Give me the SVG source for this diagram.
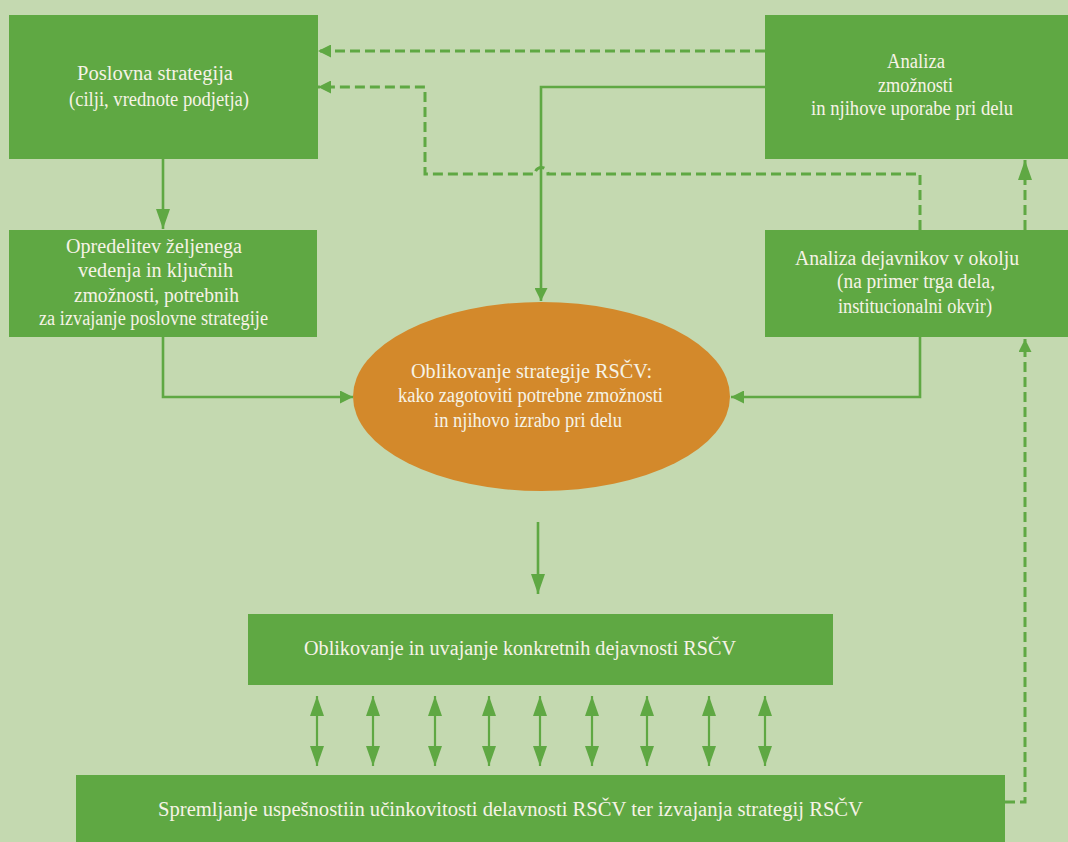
<svg xmlns="http://www.w3.org/2000/svg" width="1068" height="842" viewBox="0 0 1068 842">
  <style>
    .box { fill: #5FA843; }
    .oval { fill: #D3892B; }
    .lbl { font-family: "Liberation Serif", "Times New Roman", serif; font-size: 20.5px; fill: #F6F3E6; }
    .line { fill: none; stroke: #5FA843; stroke-width: 2.6; }
    .dash { fill: none; stroke: #5FA843; stroke-width: 3; stroke-dasharray: 10 5; }
    .dbl { fill: none; stroke: #5FA843; stroke-width: 2.2; }
  </style>
  <defs>
    <marker id="head-s" markerUnits="userSpaceOnUse" markerWidth="13" markerHeight="13" refX="13" refY="6.5" orient="auto">
      <path d="M0,0 L13,6.5 L0,13 Z" fill="#5FA843"/>
    </marker>
    <marker id="head-l" markerUnits="userSpaceOnUse" markerWidth="20" markerHeight="14" refX="20" refY="7" orient="auto-start-reverse">
      <path d="M0,0 L20,7 L0,14 Z" fill="#5FA843"/>
    </marker>
  </defs>

  <rect width="1068" height="842" fill="#C4D9B0"/>

  <!-- connectors -->
  <g id="connectors">
    <path class="dash" d="M765,51 L318,51" marker-end="url(#head-s)"/>
    <path class="dash" d="M920,230 L920,174 L548,174 A6.5,6.5 0 0 0 535,174 L425,174 L425,87 L318,87" marker-end="url(#head-s)"/>
    <path class="line" d="M765,87 L541,87 L541,301" marker-end="url(#head-s)"/>
    <path class="line" d="M163,159 L163,229" marker-end="url(#head-l)"/>
    <path class="line" d="M163,337 L163,397 L353,397" marker-end="url(#head-s)"/>
    <path class="line" d="M920,337 L920,397 L731,397" marker-end="url(#head-s)"/>
    <path class="dash" d="M1025,230 L1025,160" marker-end="url(#head-l)"/>
    <path class="dash" d="M1005,802 L1025,802 L1025,339" marker-end="url(#head-s)"/>
    <path class="line" d="M538,522 L538,594" marker-end="url(#head-l)"/>
    <g id="feedback-arrows">
      <path class="dbl" d="M317,696 L317,766" marker-start="url(#head-l)" marker-end="url(#head-l)"/>
      <path class="dbl" d="M373,696 L373,766" marker-start="url(#head-l)" marker-end="url(#head-l)"/>
      <path class="dbl" d="M435,696 L435,766" marker-start="url(#head-l)" marker-end="url(#head-l)"/>
      <path class="dbl" d="M489,696 L489,766" marker-start="url(#head-l)" marker-end="url(#head-l)"/>
      <path class="dbl" d="M540,696 L540,766" marker-start="url(#head-l)" marker-end="url(#head-l)"/>
      <path class="dbl" d="M592,696 L592,766" marker-start="url(#head-l)" marker-end="url(#head-l)"/>
      <path class="dbl" d="M647,696 L647,766" marker-start="url(#head-l)" marker-end="url(#head-l)"/>
      <path class="dbl" d="M709,696 L709,766" marker-start="url(#head-l)" marker-end="url(#head-l)"/>
      <path class="dbl" d="M765,696 L765,766" marker-start="url(#head-l)" marker-end="url(#head-l)"/>
    </g>
  </g>

  <!-- business strategy -->
  <g id="poslovna-strategija">
    <rect class="box" x="9" y="15" width="309" height="144"/>
    <text class="lbl" x="77" y="80" textLength="156" lengthAdjust="spacingAndGlyphs">Poslovna strategija</text>
    <text class="lbl" x="69" y="106" textLength="180" lengthAdjust="spacingAndGlyphs">(cilji, vrednote podjetja)</text>
  </g>

  <!-- required knowledge and competences -->
  <g id="opredelitev">
    <rect class="box" x="9" y="230" width="308" height="107"/>
    <text class="lbl" x="66" y="253" textLength="176" lengthAdjust="spacingAndGlyphs">Opredelitev željenega</text>
    <text class="lbl" x="78" y="277" textLength="155" lengthAdjust="spacingAndGlyphs">vedenja in ključnih</text>
    <text class="lbl" x="74" y="302" textLength="165" lengthAdjust="spacingAndGlyphs">zmožnosti, potrebnih</text>
    <text class="lbl" x="39" y="325" textLength="229" lengthAdjust="spacingAndGlyphs">za izvajanje poslovne strategije</text>
  </g>

  <!-- competence analysis -->
  <g id="analiza-zmoznosti">
    <rect class="box" x="765" y="15" width="303" height="144"/>
    <text class="lbl" x="887" y="68" textLength="58" lengthAdjust="spacingAndGlyphs">Analiza</text>
    <text class="lbl" x="878" y="92" textLength="75" lengthAdjust="spacingAndGlyphs">zmožnosti</text>
    <text class="lbl" x="811" y="115" textLength="202" lengthAdjust="spacingAndGlyphs">in njihove uporabe pri delu</text>
  </g>

  <!-- environment analysis -->
  <g id="analiza-dejavnikov">
    <rect class="box" x="765" y="230" width="303" height="107"/>
    <text class="lbl" x="795" y="265" textLength="224" lengthAdjust="spacingAndGlyphs">Analiza dejavnikov v okolju</text>
    <text class="lbl" x="837" y="288" textLength="158" lengthAdjust="spacingAndGlyphs">(na primer trga dela,</text>
    <text class="lbl" x="838" y="313" textLength="154" lengthAdjust="spacingAndGlyphs">institucionalni okvir)</text>
  </g>

  <!-- HRD strategy -->
  <g id="strategija-rscv">
    <ellipse class="oval" cx="541.5" cy="396.5" rx="188.5" ry="94.5"/>
    <text class="lbl" x="411" y="378" textLength="241" lengthAdjust="spacingAndGlyphs">Oblikovanje strategije RSČV:</text>
    <text class="lbl" x="398" y="402" textLength="265" lengthAdjust="spacingAndGlyphs">kako zagotoviti potrebne zmožnosti</text>
    <text class="lbl" x="434" y="427" textLength="188" lengthAdjust="spacingAndGlyphs">in njihovo izrabo pri delu</text>
  </g>

  <!-- concrete activities -->
  <g id="dejavnosti-rscv">
    <rect class="box" x="248" y="614" width="585" height="71"/>
    <text class="lbl" x="304" y="655" textLength="432" lengthAdjust="spacingAndGlyphs">Oblikovanje in uvajanje konkretnih dejavnosti RSČV</text>
  </g>

  <!-- monitoring -->
  <g id="spremljanje">
    <rect class="box" x="76" y="775" width="929" height="67"/>
    <text class="lbl" x="158" y="816" textLength="705" lengthAdjust="spacingAndGlyphs">Spremljanje uspešnostiin učinkovitosti delavnosti RSČV ter izvajanja strategij RSČV</text>
  </g>
</svg>
